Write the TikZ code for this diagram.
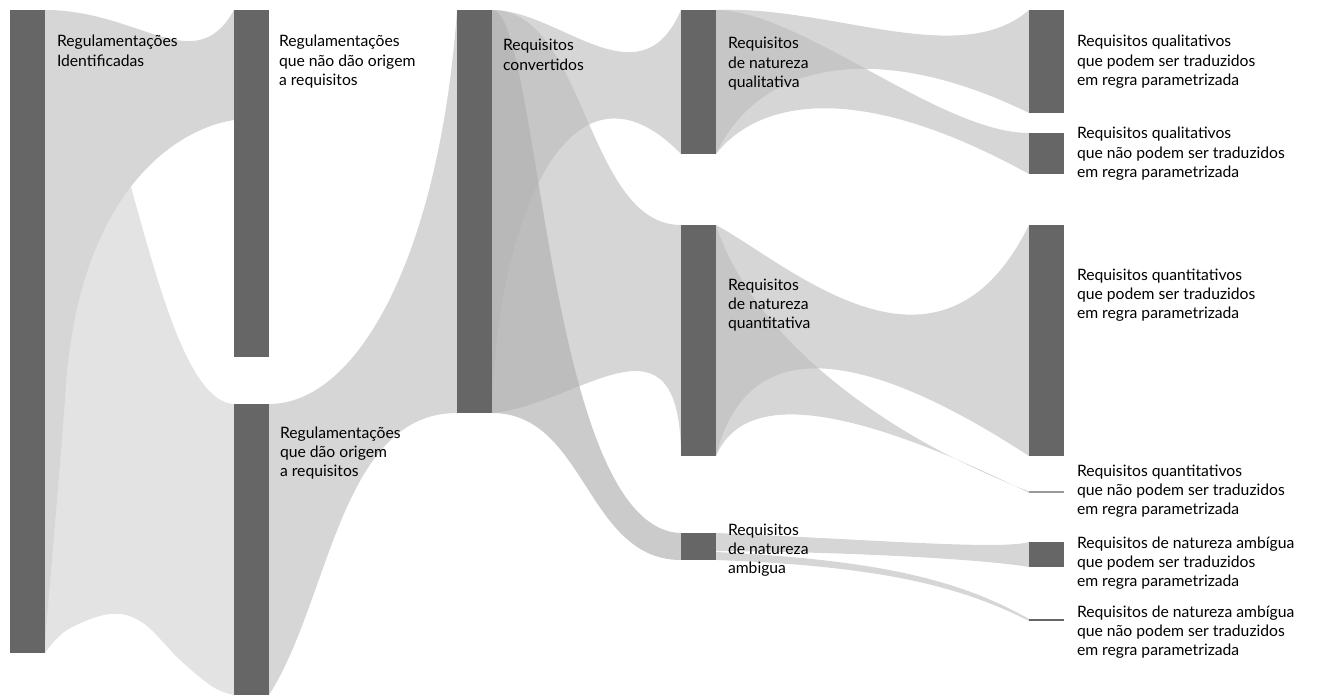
\documentclass[tikz,border=0pt]{standalone}
\usepackage{fontspec}
\setmainfont{Lato}
\definecolor{barc}{HTML}{666666}
\definecolor{bandlight}{HTML}{E3E3E3}
\definecolor{bandmid}{HTML}{D6D6D6}
\definecolor{flowc}{HTML}{BCBCBC}
\definecolor{flowdark}{HTML}{B2B2B2}
% fixed height for the first line of every label
\newcommand\lblstrut{\rule{0pt}{14pt}}
\begin{document}
\begin{tikzpicture}[x=1pt,y=-1pt,
  bar/.style={fill=barc, draw=none, inner sep=0pt, outer sep=0pt,
    minimum width=35pt, anchor=north west},
  lbl/.style={anchor=north west, align=left, inner sep=0pt, outer sep=0pt,
    font=\fontsize{15.7}{19.4}\selectfont, text=black},
  lightband/.style={fill=bandlight},
  midband/.style={fill=bandmid},
  fan/.style={fill=flowc, fill opacity=0.61},
  darkfan/.style={fill=flowdark, fill opacity=0.68}]
\useasboundingbox (0,0) rectangle (1317,695);

% ---- flows: column 1 -> column 2 -> column 3
\fill[lightband] (45,10) .. controls (120,10) and (150,400) .. (234,404)
  -- (234,695)
  -- plot[smooth, tension=0.6] coordinates {(234,695) (213,687) (180,660) (143,623) (110,614) (67,630) (45,653)}
  -- cycle;
\fill[midband] (45,10) .. controls (140,10) and (195,80) .. (234,10)
  -- (234,120) .. controls (170,130) and (75,200) .. (65,400)
  .. controls (55,530) and (48,600) .. (45,645) -- cycle;
\fill[midband] (269,404) .. controls (360,404) and (440,250) .. (457,10)
  -- (457,413) .. controls (340,413) and (330,600) .. (269,695) -- cycle;

% ---- flows: column 3 -> column 4
\fill[fan] (492,10) .. controls (560,10) and (640,105) .. (681,10)
  -- (681,154) .. controls (570,40) and (496,220) .. (492,413) -- cycle;
\fill[fan] (492,10) .. controls (586,10) and (586,225) .. (681,225)
  -- (681,456) .. controls (680,300) and (580,405) .. (492,413) -- cycle;
\fill[darkfan] (492,10) .. controls (540,10) and (545,530) .. (681,533)
  -- (681,560) .. controls (586,560) and (586,413) .. (492,413) -- cycle;

% ---- flows: column 4 -> column 5
\fill[fan] (716,10) .. controls (830,5) and (960,70) .. (1029,10)
  -- (1029,113) .. controls (880,40) and (760,60) .. (716,154) -- cycle;
\fill[fan] (716,10) .. controls (800,10) and (940,133) .. (1029,133)
  -- (1029,174) .. controls (840,70) and (750,110) .. (716,154) -- cycle;
\fill[fan] (716,225) .. controls (790,265) and (940,405) .. (1029,225)
  -- (1029,456) .. controls (820,320) and (740,360) .. (716,456) -- cycle;
\fill[fan] (716,225) .. controls (750,330) and (870,430) .. (1029,491.4)
  -- (1029,492.8) .. controls (820,390) and (740,400) .. (716,456) -- cycle;
\fill[fan] (716,533) .. controls (880,540) and (1000,550) .. (1029,542)
  -- (1029,567) .. controls (990,560) and (860,552) .. (716,551) -- cycle;
\fill[fan] (716,552) .. controls (880,560) and (960,580) .. (1029,619)
  -- (1029,621) .. controls (960,586) and (880,566) .. (716,560) -- cycle;

% ---- bars
\node[bar, minimum height=643pt] (c1) at (10,10) {};
\node[bar, minimum height=347pt] (c2a) at (234,10) {};
\node[bar, minimum height=291pt] (c2b) at (234,404) {};
\node[bar, minimum height=403pt] (c3) at (457,10) {};
\node[bar, minimum height=144pt] (c4a) at (681,10) {};
\node[bar, minimum height=231pt] (c4b) at (681,225) {};
\node[bar, minimum height=27pt] (c4c) at (681,533) {};
\node[bar, minimum height=103pt] (c5a) at (1029,10) {};
\node[bar, minimum height=41pt] (c5b) at (1029,133) {};
\node[bar, minimum height=231pt] (c5c) at (1029,225) {};
\node[bar, minimum height=1.3pt, fill=black!40] (c5d) at (1029,491.4) {};
\node[bar, minimum height=25pt] (c5e) at (1029,542) {};
\node[bar, minimum height=1.8pt] (c5f) at (1029,619.2) {};

% ---- labels (first baseline = anchor + 14)
\node[lbl] (t1) at (57,33) {\lblstrut Regulamentações\\Identificadas};
\node[lbl] (t2a) at (279,33) {\lblstrut Regulamentações\\que não dão origem\\a requisitos};
\node[lbl] (t2b) at (280,424) {\lblstrut Regulamentações\\que dão origem\\a requisitos};
\node[lbl] (t3) at (503,37) {\lblstrut Requisitos\\convertidos};
\node[lbl] (t4a) at (728,35) {\lblstrut Requisitos\\de natureza\\qualitativa};
\node[lbl] (t4b) at (728,276) {\lblstrut Requisitos\\de natureza\\quantitativa};
\node[lbl] (t4c) at (728,521) {\lblstrut Requisitos\\de natureza\\ambigua};
\node[lbl] (t5a) at (1077,33) {\lblstrut Requisitos qualitativos\\que podem ser traduzidos\\em regra parametrizada};
\node[lbl] (t5b) at (1077,125) {\lblstrut Requisitos qualitativos\\que não podem ser traduzidos\\em regra parametrizada};
\node[lbl] (t5c) at (1077,266) {\lblstrut Requisitos quantitativos\\que podem ser traduzidos\\em regra parametrizada};
\node[lbl] (t5d) at (1077,462) {\lblstrut Requisitos quantitativos\\que não podem ser traduzidos\\em regra parametrizada};
\node[lbl] (t5e) at (1077,534) {\lblstrut Requisitos de natureza ambígua\\que podem ser traduzidos\\em regra parametrizada};
\node[lbl] (t5f) at (1077,603) {\lblstrut Requisitos de natureza ambígua\\que não podem ser traduzidos\\em regra parametrizada};
\end{tikzpicture}
\end{document}
